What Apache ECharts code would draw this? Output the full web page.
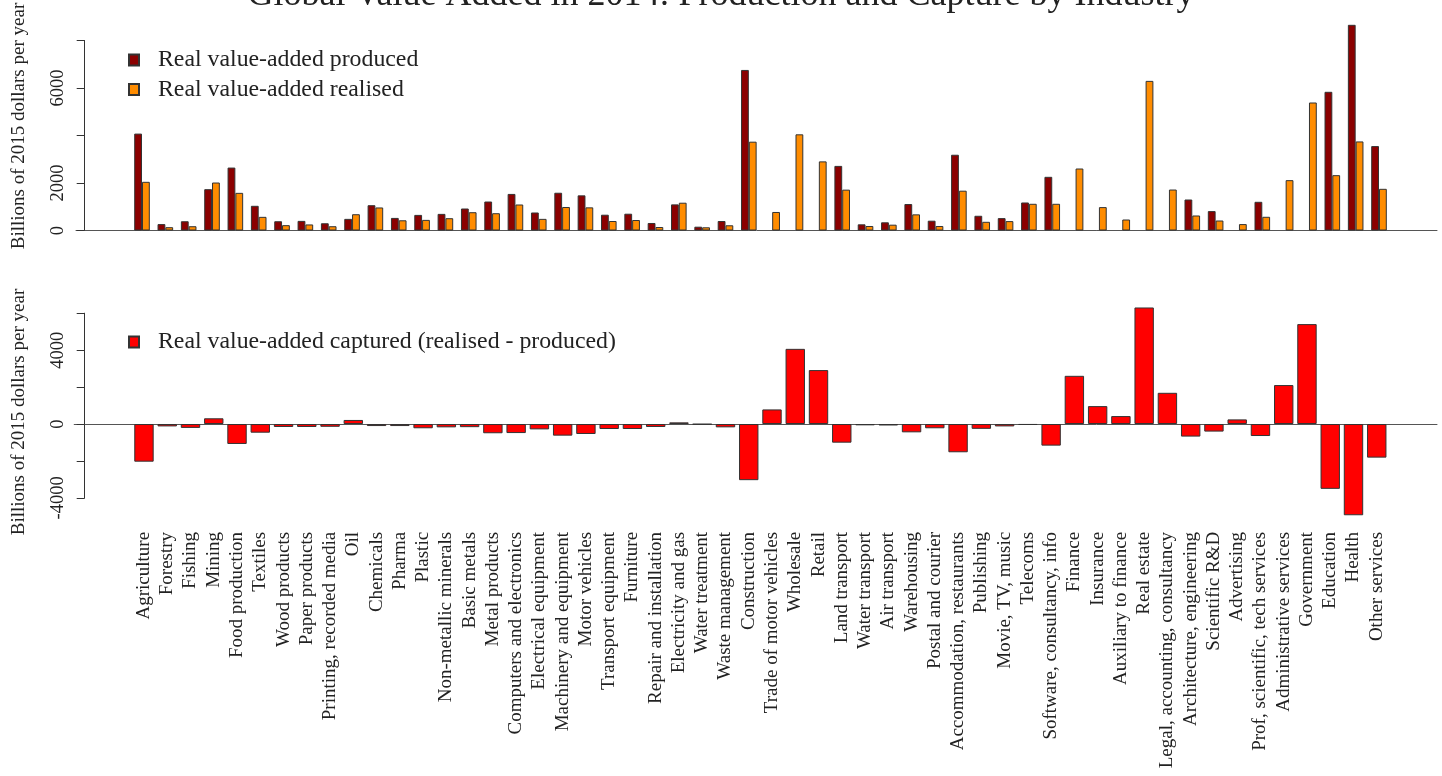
<!DOCTYPE html>
<html>
<head>
<meta charset="utf-8">
<script src="https://cdn.jsdelivr.net/npm/echarts@6/dist/echarts.min.js"></script>
<style>html,body{margin:0;padding:0;background:#fff}#c{width:1442px;height:776px}</style>
</head>
<body>
<div id="c"></div>
<script>
const categories = ["Agriculture","Forestry","Fishing","Mining","Food production","Textiles","Wood products","Paper products","Printing, recorded media","Oil","Chemicals","Pharma","Plastic","Non-metallic minerals","Basic metals","Metal products","Computers and electronics","Electrical equipment","Machinery and equipment","Motor vehicles","Transport equipment","Furniture","Repair and installation","Electricity and gas","Water treatment","Waste management","Construction","Trade of motor vehicles","Wholesale","Retail","Land transport","Water transport","Air transport","Warehousing","Postal and courier","Accommodation, restaurants","Publishing","Movie, TV, music","Telecoms","Software, consultancy, info","Finance","Insurance","Auxiliary to finance","Real estate","Legal, accounting, consultancy","Architecture, engineering","Scientific R&D","Advertising","Prof, scientific, tech services","Administrative services","Government","Education","Health","Other services"];

const produced = [4080,270,390,1740,2650,1040,390,405,305,490,1065,530,657,700,926,1220,1540,758,1590,1480,665,707,316,1100,160,400,6760,null,null,null,2720,260,345,1115,413,3190,620,522,1180,2260,null,null,null,null,null,1305,817,null,1208,null,null,5840,8660,3555];

const realised = [2050,140,180,2020,1585,575,225,255,180,685,970,430,447,518,770,728,1095,490,990,975,400,442,147,1170,135,220,3740,780,4050,2910,1720,190,245,680,190,1676,366,396,1125,1125,2610,985,463,6300,1725,632,421,270,577,2120,5390,2330,3750,1755];

const captured = [-2040,-130,-210,310,-1080,-470,-160,-160,-150,220,-110,-110,-230,-180,-170,-500,-490,-290,-630,-540,-270,-270,-160,90,-20,-180,-3040,790,4070,2920,-1010,-70,-80,-450,-230,-1530,-260,-130,-50,-1170,2610,970,430,6310,1690,-680,-410,250,-650,2110,5410,-3510,-4940,-1820];

const topTickLabels = [0, 2000, 6000];
const bottomTickLabels = [-4000, 0, 4000];

const titleText = "Global Value Added in 2014: Production and Capture by Industry";
const yTitle = "Billions of 2015 dollars per year";
const seriesNames = ["Real value-added produced", "Real value-added realised", "Real value-added captured (realised - produced)"];

const FONT = "Liberation Serif";
const TXT = "#222";
const BORDER = "#333";

function pairs(arr) {
  const out = [];
  arr.forEach((v, i) => { if (v !== null && v !== undefined) out.push([i, v]); });
  return out;
}

const chart = echarts.init(document.getElementById('c'), null, {renderer: 'canvas'});

const option = {
  animation: false,
  backgroundColor: '#fff',
  title: {
    text: titleText, left: 'center', top: -22, padding: 0,
    textStyle: {fontFamily: FONT, fontSize: 36, fontWeight: 'normal', color: TXT}
  },
  graphic: [
    {type: 'text', x: 19, y: 126, rotation: Math.PI / 2,
     style: {text: yTitle, font: '19px "Liberation Serif"', fill: TXT, textAlign: 'center', textVerticalAlign: 'middle'}},
    {type: 'text', x: 19, y: 412, rotation: Math.PI / 2,
     style: {text: yTitle, font: '19px "Liberation Serif"', fill: TXT, textAlign: 'center', textVerticalAlign: 'middle'}}
  ],
  legend: [
    {data: [seriesNames[0], seriesNames[1]], orient: 'vertical', left: 128, top: 48, padding: 0,
     itemWidth: 10, itemHeight: 11, itemGap: 5.5, icon: 'rect',
     textStyle: {fontFamily: FONT, fontSize: 23.8, color: TXT, lineHeight: 24, padding: [0,0,0,14]}},
    {data: [seriesNames[2]], orient: 'vertical', left: 128, top: 330, padding: 0,
     itemWidth: 10, itemHeight: 11, icon: 'rect',
     textStyle: {fontFamily: FONT, fontSize: 23.8, color: TXT, lineHeight: 24, padding: [0,0,0,14]}}
  ],
  grid: [
    {left: 76, right: 5, top: 40.5, height: 190},
    {left: 74.2, right: 5, top: 313.2, height: 184.7}
  ],
  xAxis: [
    {type: 'value', gridIndex: 0, min: -2.828, max: 55.485,
     axisLine: {show: true, onZero: true, lineStyle: {color: '#555', width: 1}},
     axisTick: {show: false}, axisLabel: {show: false}, splitLine: {show: false}},
    {type: 'value', gridIndex: 1, position: 'top', min: -3, max: 55.59,
     axisLine: {show: true, onZero: true, lineStyle: {color: '#555', width: 1}},
     axisTick: {show: false}, axisLabel: {show: false}, splitLine: {show: false}},
    {type: 'value', gridIndex: 1, position: 'bottom', min: -3, max: 55.59, interval: 1,
     axisLine: {show: false, onZero: false}, axisTick: {show: false}, splitLine: {show: false},
     axisLabel: {show: true, rotate: 90, margin: 34, fontFamily: FONT, fontSize: 19, color: TXT,
       showMinLabel: true, showMaxLabel: true,
       formatter: function (v) {
         const i = Math.round(v);
         return (Math.abs(v - i) < 1e-6 && i >= 0 && i < categories.length) ? categories[i] : '';
       }}}
  ],
  yAxis: [
    {type: 'value', gridIndex: 0, min: 0, max: 8000, interval: 2000, offset: -8.7,
     axisLine: {show: true, onZero: false, lineStyle: {color: BORDER, width: 1}},
     axisTick: {show: true, length: 8, lineStyle: {color: BORDER}},
     splitLine: {show: false},
     axisLabel: {rotate: 90, margin: 17, fontFamily: FONT, fontSize: 18.5, color: TXT,
       formatter: v => topTickLabels.includes(v) ? String(v) : ''}},
    {type: 'value', gridIndex: 1, min: -4000, max: 6000, interval: 2000, offset: -10.5,
     axisLine: {show: true, onZero: false, lineStyle: {color: BORDER, width: 1}},
     axisTick: {show: true, length: 8, lineStyle: {color: BORDER}},
     splitLine: {show: false},
     axisLabel: {rotate: 90, margin: 17, fontFamily: FONT, fontSize: 18.5, color: TXT,
       formatter: v => bottomTickLabels.includes(v) ? String(v) : ''}}
  ],
  series: [
    {name: seriesNames[0], type: 'bar', xAxisIndex: 0, yAxisIndex: 0, data: pairs(produced),
     barWidth: 7.8, barGap: '0%', clip: false,
     itemStyle: {color: '#8B0000', borderColor: BORDER, borderWidth: 1}},
    {name: seriesNames[1], type: 'bar', xAxisIndex: 0, yAxisIndex: 0, data: pairs(realised),
     barWidth: 7.8, barGap: '0%', clip: false,
     itemStyle: {color: '#FF8C00', borderColor: BORDER, borderWidth: 1}},
    {name: seriesNames[2], type: 'bar', xAxisIndex: 1, yAxisIndex: 1, data: pairs(captured),
     barWidth: 19.4, clip: false,
     itemStyle: {color: '#FF0000', borderColor: BORDER, borderWidth: 1}}
  ]
};
chart.setOption(option);
</script>
</body>
</html>
